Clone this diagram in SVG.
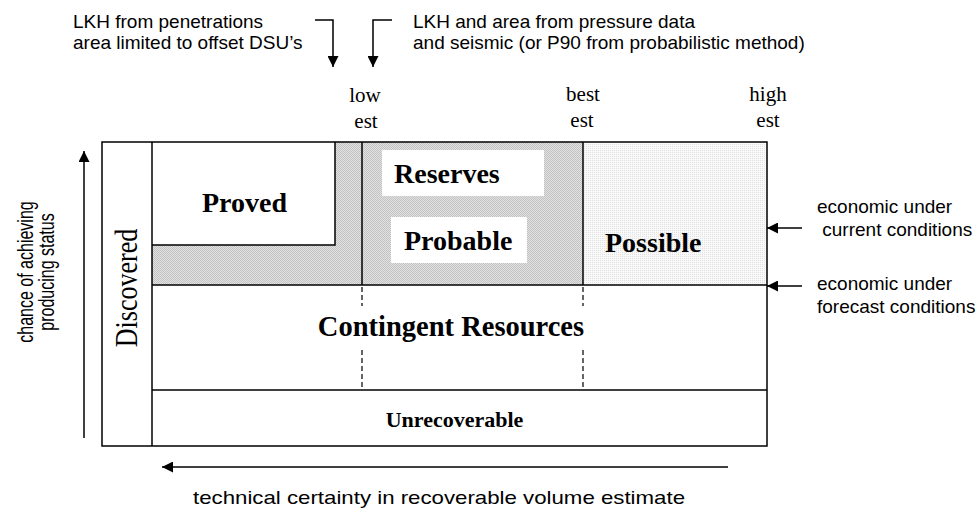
<svg xmlns="http://www.w3.org/2000/svg" width="977" height="512" viewBox="0 0 977 512">
<style>
.sans{font-family:"Liberation Sans",Arial,sans-serif;fill:#000}
.serif{font-family:"Liberation Serif","Times New Roman",serif;fill:#000}
.b{font-weight:bold}
.ln{stroke:#000;stroke-width:1.5;fill:none}
.dash{stroke:#000;stroke-width:1.2;stroke-dasharray:5 3;fill:none}
.arr{stroke:#000;stroke-width:1.5;fill:none;marker-end:url(#ah)}
</style>
<defs>
<marker id="ah" viewBox="0 0 10 10" refX="10" refY="5" markerUnits="userSpaceOnUse" markerWidth="13" markerHeight="11" orient="auto">
<path d="M0,0 L10,5 L0,10 Z" fill="#000"/>
</marker>
<pattern id="dots" width="2" height="2" patternUnits="userSpaceOnUse">
<rect width="2" height="2" fill="#e2e2e2"/>
<rect width="1" height="1" fill="#c2c2c2"/>
<rect x="1" y="1" width="1" height="1" fill="#c2c2c2"/>
</pattern>
<pattern id="lightdots" width="2" height="2" patternUnits="userSpaceOnUse">
<rect width="2" height="2" fill="#f9f9f9"/>
<rect width="1" height="1" fill="#e0e0e0"/>
</pattern>
</defs>
<rect width="977" height="512" fill="#fff"/>

<g id="reserves-area">
<path d="M152,142 H583 V285 H152 Z" fill="url(#dots)"/>
</g>
<g id="possible">
<rect x="583" y="142" width="184" height="143" fill="url(#lightdots)"/>
<text class="serif b" x="605" y="252" font-size="28">Possible</text>
</g>
<g id="proved">
<path d="M152,142 H335 V245 H152 Z" fill="#fff"/>
<path class="ln" d="M335,142 V245 H152"/>
<text class="serif b" x="202" y="212" font-size="28">Proved</text>
</g>
<g id="reserves">
<rect x="382" y="150" width="162" height="46" fill="#fff"/>
<text class="serif b" x="394" y="183" font-size="28">Reserves</text>
</g>
<g id="probable">
<rect x="391" y="217" width="136" height="46" fill="#fff"/>
<text class="serif b" x="404" y="250" font-size="28">Probable</text>
</g>

<g id="frame">
<rect class="ln" x="102" y="142" width="665" height="304" stroke-width="2"/>
<line class="ln" x1="152" y1="142" x2="152" y2="446"/>
<line class="ln" x1="362" y1="142" x2="362" y2="285"/>
<line class="ln" x1="583" y1="142" x2="583" y2="285"/>
<line class="ln" x1="152" y1="285" x2="767" y2="285" stroke-width="2.5"/>
<line class="ln" x1="152" y1="390" x2="767" y2="390" stroke-width="2"/>
<path class="dash" d="M362,287 V306 M362,350 V390 M583,287 V306 M583,350 V390"/>
</g>

<g id="discovered">
<text class="serif" font-size="26" text-anchor="middle" transform="translate(137,288) scale(1.22,1) rotate(-90)">Discovered</text>
</g>
<g id="contingent">
<text class="serif b" x="451" y="336" font-size="28.5" text-anchor="middle">Contingent Resources</text>
</g>
<g id="unrecoverable">
<text class="serif b" x="454.5" y="427" font-size="22" text-anchor="middle">Unrecoverable</text>
</g>

<g id="estimates">
<text class="serif" font-size="21" text-anchor="middle"><tspan x="365" y="102">low</tspan><tspan x="366" y="128">est</tspan></text>
<text class="serif" font-size="21" text-anchor="middle"><tspan x="583" y="101">best</tspan><tspan x="582" y="127">est</tspan></text>
<text class="serif" font-size="21" text-anchor="middle"><tspan x="768" y="101">high</tspan><tspan x="768" y="127">est</tspan></text>
</g>

<g id="notes">
<text class="sans" font-size="19"><tspan x="73" y="28">LKH from penetrations</tspan><tspan x="73" y="49">area limited to offset DSU’s</tspan></text>
<text class="sans" font-size="19"><tspan x="413" y="28">LKH and area from pressure data</tspan><tspan x="413" y="49">and seismic (or P90 from probabilistic method)</tspan></text>
<text class="sans" font-size="19"><tspan x="817" y="213">economic under</tspan><tspan x="817" y="236"> current conditions</tspan></text>
<text class="sans" font-size="19"><tspan x="817" y="290">economic under</tspan><tspan x="817" y="313">forecast conditions</tspan></text>
<text class="sans" font-size="16" text-anchor="middle" transform="translate(33,272) scale(1.35,1) rotate(-90)">chance of achieving</text>
<text class="sans" font-size="16" text-anchor="middle" transform="translate(54,272) scale(1.35,1) rotate(-90)">producing status</text>
<text class="sans" font-size="19" x="193" y="504" textLength="492" lengthAdjust="spacingAndGlyphs">technical certainty in recoverable volume estimate</text>
</g>

<g id="connectors">
<path class="arr" d="M315,20 H333 V67"/>
<path class="arr" d="M392,20 H373 V67"/>
<path class="arr" d="M802,228 H767"/>
<path class="arr" d="M802,286 H767"/>
<path class="arr" d="M84,438 V151"/>
<path class="arr" d="M728,467 H162"/>
</g>
</svg>
